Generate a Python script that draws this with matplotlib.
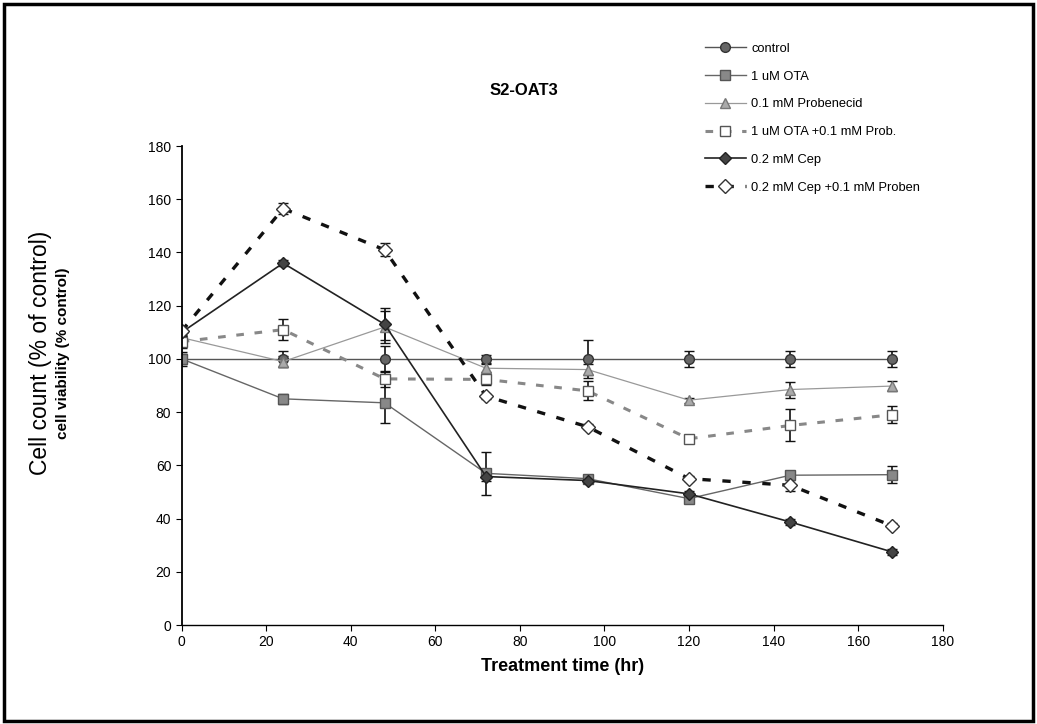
import matplotlib.pyplot as plt
import numpy as np
from matplotlib.patches import Rectangle
from matplotlib.lines import Line2D

plt.rcParams['font.family'] = ['Liberation Sans', 'DejaVu Sans']

#----------------------------------------
#--------data-----------
#----------------------------------------
hours = [0, 24, 48, 72, 96, 120, 144, 168]

control = [100, 100, 100, 100, 100, 100, 100, 100]
control_err = [2.5, 3, 5, 1.5, 7, 3, 3, 3]

ota = [100, 85, 83.5, 57, 55, 47.5, 56.3, 56.5]
ota_err = [2, 2, 7.5, 8, 1.5, 1.5, 1.5, 3.3]

prob = [108, 99, 112, 96.5, 96, 84.5, 88.5, 89.8]
prob_err = [2, 2, 6, 1.5, 2, 1, 3, 2]

ota_prob = [106.5, 111, 92.5, 92.3, 88, 70, 75, 79]
ota_prob_err = [2.5, 4, 3, 2, 3.6, 1, 6, 3.2]

cep = [110, 136, 113, 55.8, 54.3, 49.3, 38.7, 27.5]
cep_err = [1.5, 1, 6, 1.5, 1, 1, 1, 1]

cep_prob = [110.5, 156.5, 141, 86, 74.5, 55, 52.5, 37.3]
cep_prob_err = [2, 2, 2.5, 1, 1, 1, 2, 1]

labels = ["control", "1 uM OTA", "0.1 mM Probenecid", "1 uM OTA +0.1 mM Prob.",
          "0.2 mM Cep", "0.2 mM Cep +0.1 mM Proben"]

#----------------------------------------
#--------plot-----------
#----------------------------------------
fig = plt.figure(figsize=(10.37, 7.24), dpi=100)
ax = fig.add_axes([0.1752, 0.1367, 0.7338, 0.6616])

styles = [
    (control, control_err, dict(color='#555555', lw=1.0, ls='-', marker='o', ms=7,
                                mfc='#666666', mec='#333333')),
    (ota, ota_err, dict(color='#666666', lw=1.0, ls='-', marker='s', ms=7,
                        mfc='#888888', mec='#555555')),
    (prob, prob_err, dict(color='#999999', lw=0.9, ls='-', marker='^', ms=7,
                          mfc='#aaaaaa', mec='#777777')),
    (ota_prob, ota_prob_err, dict(color='#888888', lw=2.2, ls=(0, (2.5, 3.5)), marker='s', ms=7,
                                  mfc='white', mec='#555555')),
    (cep, cep_err, dict(color='#222222', lw=1.2, ls='-', marker='D', ms=6,
                        mfc='#444444', mec='#222222')),
    (cep_prob, cep_prob_err, dict(color='#111111', lw=2.4, ls=(0, (2.5, 3.5)), marker='D', ms=7,
                                  mfc='white', mec='#333333')),
]

handles = []
for (vals, err, st), lab in zip(styles, labels):
    ax.errorbar(hours, vals, yerr=err, ecolor='#111111', elinewidth=1.2,
                capsize=3.5, capthick=1.2, mew=1.0, **st)
    handles.append(Line2D([], [], mew=1.0, label=lab, **st))

ax.set_xlim(0, 180)
ax.set_ylim(0, 180)
ax.set_xticks(np.arange(0, 181, 20))
ax.set_yticks(np.arange(0, 181, 20))
ax.tick_params(labelsize=10, direction='out', length=4, color='black')
for s in ['top', 'right']:
    ax.spines[s].set_visible(False)
ax.spines['left'].set_linewidth(1.3)
ax.spines['bottom'].set_linewidth(1.0)

ax.set_xlabel("Treatment time (hr)", fontsize=13, fontweight='bold', labelpad=6)
ax.set_title("S2-OAT3", fontsize=12, fontweight='bold', x=0.45, y=1.09)

fig.text(0.039, 0.512, "Cell count (% of control)", rotation=90, fontsize=16.5,
         ha='center', va='center')
fig.text(0.061, 0.512, "cell viability (% control)", rotation=90, fontsize=11,
         fontweight='bold', ha='center', va='center')

leg = ax.legend(handles=handles, loc='upper left', bbox_to_anchor=(0.672, 1.24), frameon=False,
                fontsize=9.3, handlelength=3.2, labelspacing=1.22, handletextpad=0.4)

# figure frame
fig.patches.append(Rectangle((0.004, 0.004), 0.992, 0.99, transform=fig.transFigure,
                             fill=False, lw=2.5, ec='black'))

fig.savefig("out.png", dpi=100)
